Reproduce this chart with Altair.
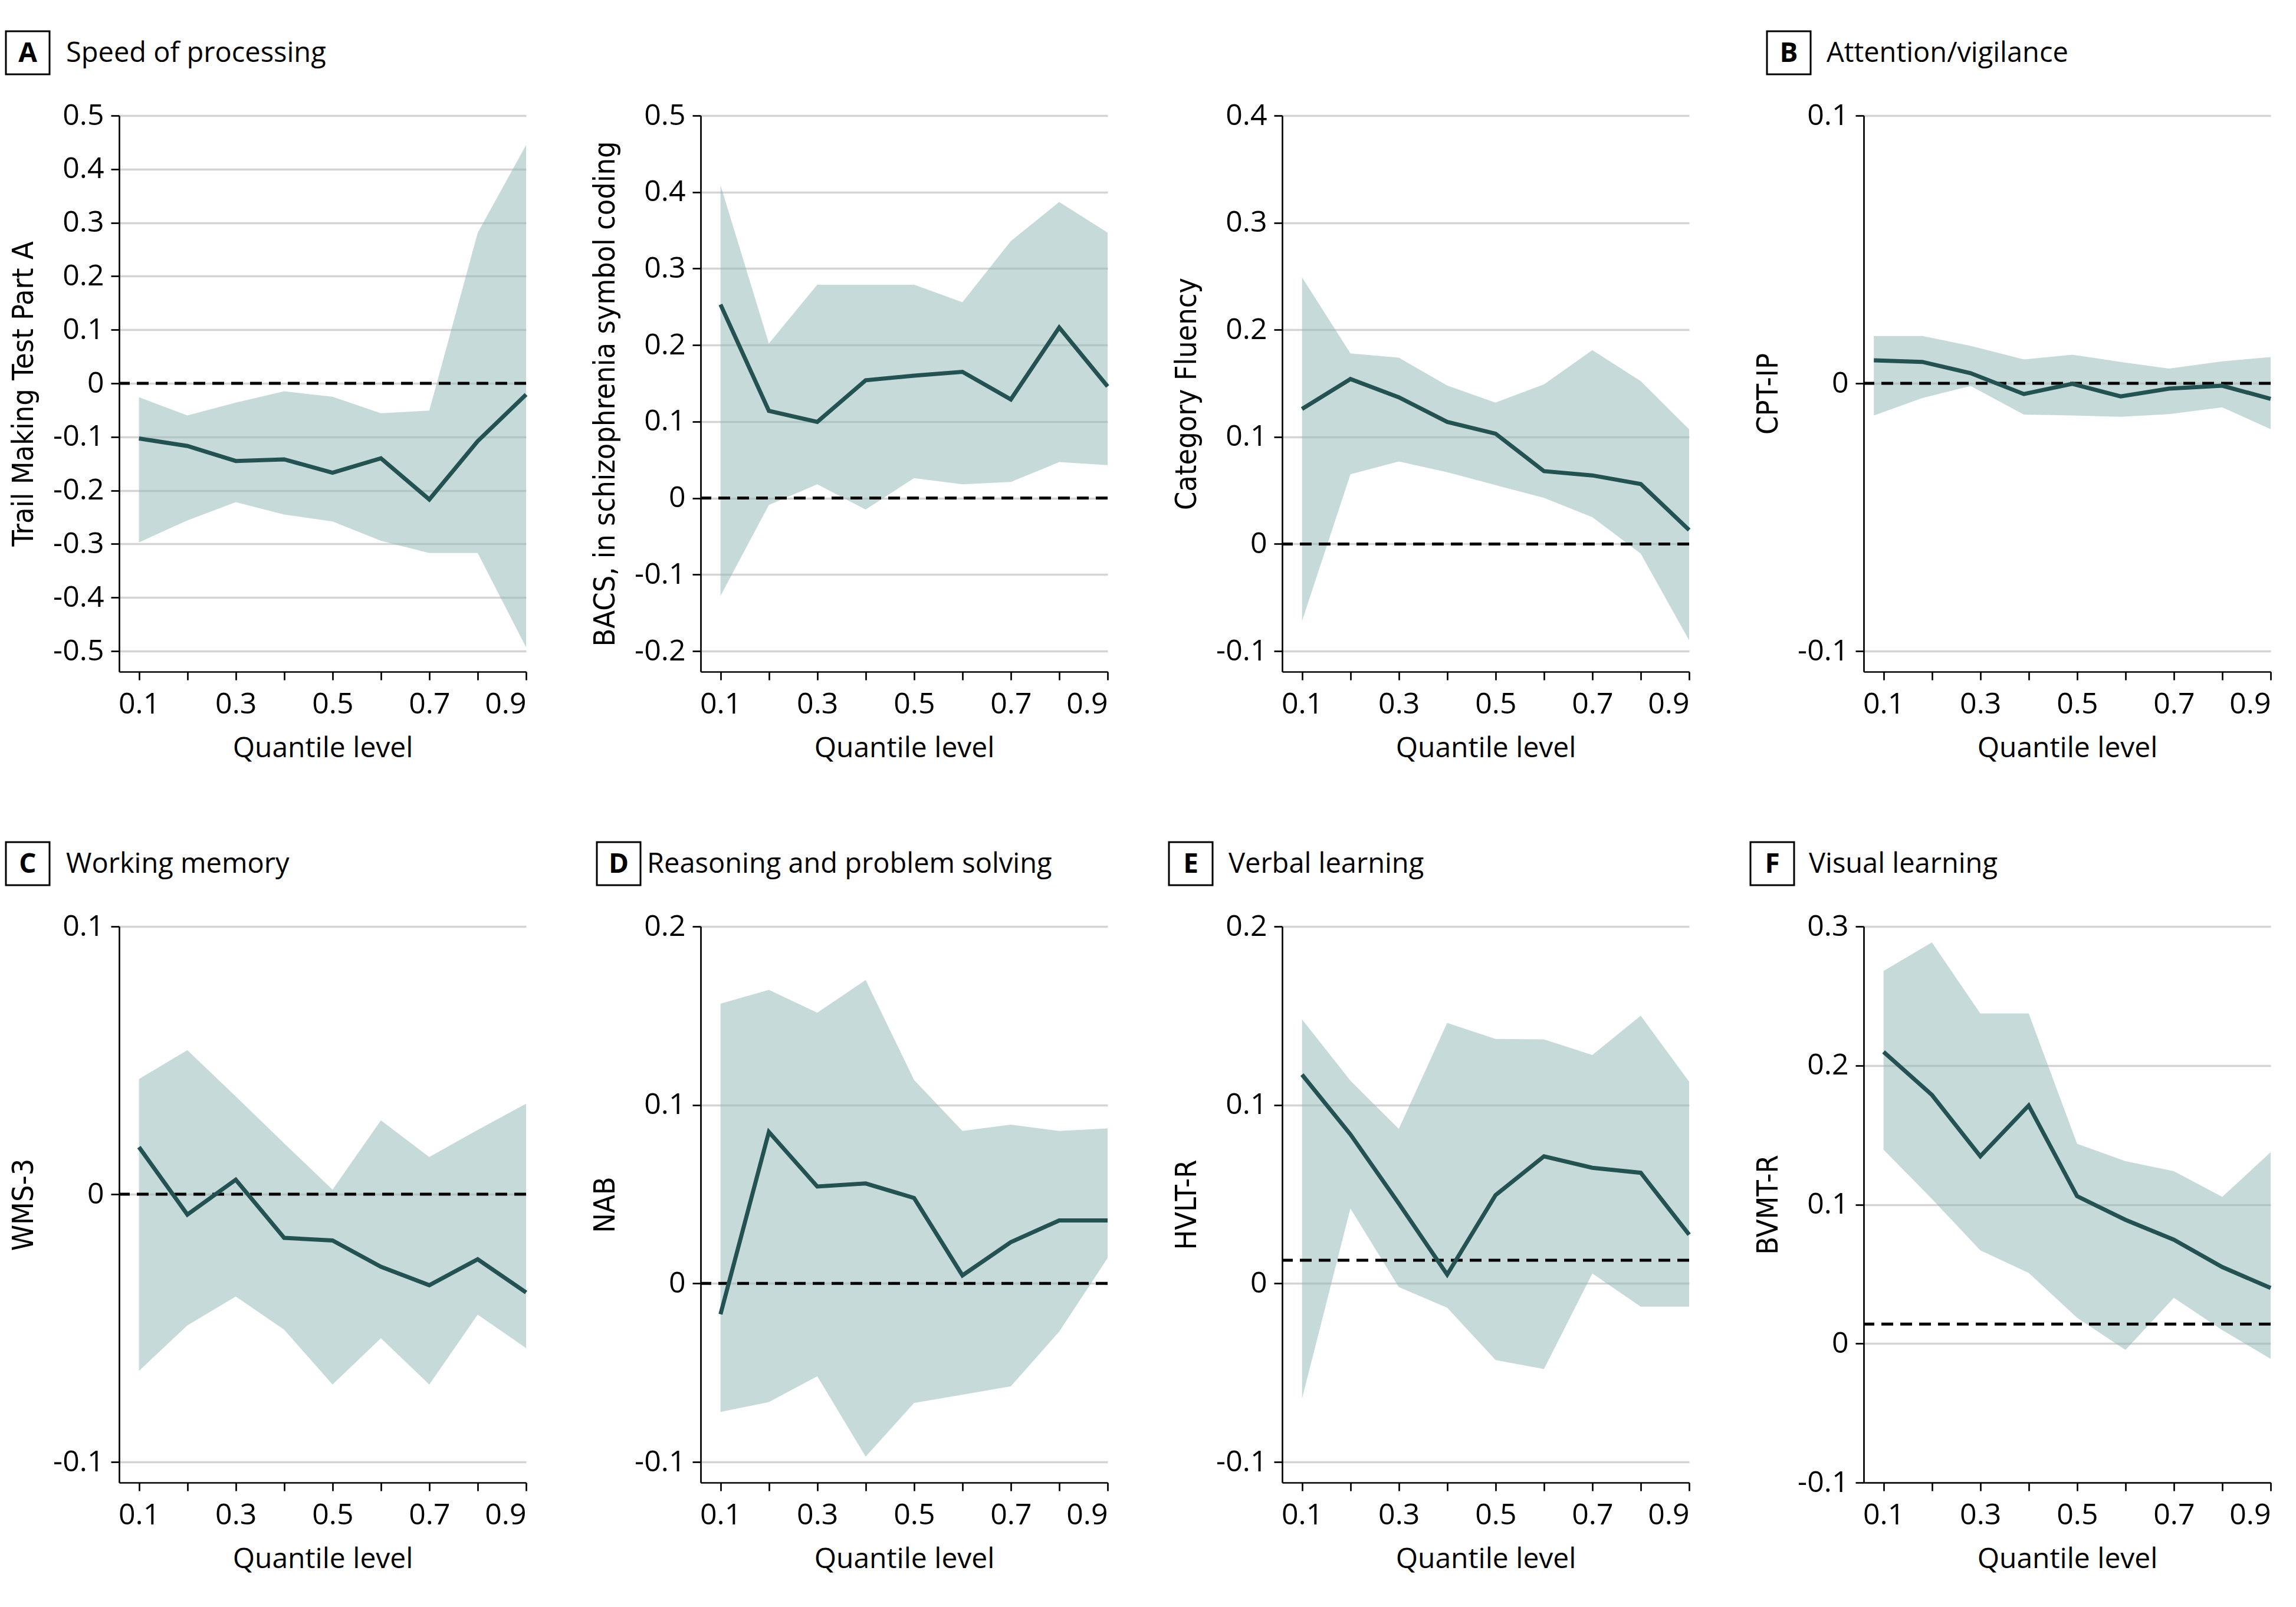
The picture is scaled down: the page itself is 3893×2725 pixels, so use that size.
import altair as alt
import pandas as pd

# ---------------- data ----------------
quantiles = [0.1, 0.2, 0.3, 0.4, 0.5, 0.6, 0.7, 0.8, 0.9]
cpt_quantiles = [0.08, 0.18, 0.28, 0.39, 0.49, 0.59, 0.69, 0.80, 0.90]
x_ticks = [0.1, 0.2, 0.3, 0.4, 0.5, 0.6, 0.7, 0.8, 0.9]

tmt_est = [-0.103, -0.117, -0.145, -0.142, -0.167, -0.140, -0.217, -0.108, -0.021]
tmt_hi = [-0.026, -0.060, -0.036, -0.015, -0.025, -0.056, -0.051, 0.281, 0.445]
tmt_lo = [-0.297, -0.256, -0.222, -0.245, -0.258, -0.294, -0.317, -0.317, -0.493]
tmt_ticks = [-0.5, -0.4, -0.3, -0.2, -0.1, 0, 0.1, 0.2, 0.3, 0.4, 0.5]

bacs_est = [0.253, 0.114, 0.0995, 0.154, 0.160, 0.165, 0.129, 0.223, 0.146]
bacs_hi = [0.409, 0.202, 0.279, 0.279, 0.279, 0.256, 0.336, 0.387, 0.347]
bacs_lo = [-0.128, -0.009, 0.018, -0.015, 0.026, 0.018, 0.021, 0.047, 0.043]
bacs_ticks = [-0.2, -0.1, 0, 0.1, 0.2, 0.3, 0.4, 0.5]

cf_est = [0.126, 0.154, 0.137, 0.114, 0.103, 0.068, 0.064, 0.056, 0.013]
cf_hi = [0.249, 0.178, 0.174, 0.148, 0.132, 0.149, 0.181, 0.152, 0.107]
cf_lo = [-0.072, 0.065, 0.077, 0.067, 0.055, 0.043, 0.025, -0.009, -0.090]
cf_ticks = [-0.1, 0, 0.1, 0.2, 0.3, 0.4]

cpt_est = [0.0086, 0.0080, 0.0038, -0.0040, -0.0002, -0.0049, -0.0020, -0.0009, -0.0058]
cpt_hi = [0.0177, 0.0177, 0.0140, 0.0089, 0.0107, 0.0080, 0.0055, 0.0082, 0.0098]
cpt_lo = [-0.0120, -0.0055, -0.0010, -0.0117, -0.0120, -0.0125, -0.0115, -0.0090, -0.0171]
cpt_ticks = [-0.1, 0, 0.1]

wms_est = [0.0176, -0.0076, 0.0054, -0.0163, -0.0173, -0.0271, -0.0340, -0.0243, -0.0367]
wms_hi = [0.0430, 0.0538, 0.0365, 0.0190, 0.0017, 0.0276, 0.0139, 0.0240, 0.0338]
wms_lo = [-0.0660, -0.0490, -0.0382, -0.0506, -0.0711, -0.0538, -0.0711, -0.0450, -0.0575]
wms_ticks = [-0.1, 0, 0.1]

nab_est = [-0.0173, 0.0849, 0.0543, 0.0560, 0.0479, 0.0045, 0.0231, 0.0353, 0.0353]
nab_hi = [0.1567, 0.1645, 0.1517, 0.1700, 0.1140, 0.0854, 0.0890, 0.0854, 0.0868]
nab_lo = [-0.0720, -0.0665, -0.0520, -0.0970, -0.0670, -0.0623, -0.0576, -0.0270, 0.0142]
nab_ticks = [-0.1, 0, 0.1, 0.2]

hvlt_est = [0.117, 0.0835, 0.0448, 0.005, 0.0495, 0.0712, 0.0648, 0.062, 0.0273]
hvlt_hi = [0.148, 0.1136, 0.0866, 0.146, 0.137, 0.1367, 0.128, 0.150, 0.113]
hvlt_lo = [-0.0646, 0.042, -0.002, -0.0136, -0.0429, -0.048, 0.0056, -0.013, -0.013]
hvlt_ticks = [-0.1, 0, 0.1, 0.2]

bvmt_est = [0.2098, 0.1788, 0.1347, 0.1712, 0.106, 0.089, 0.0747, 0.055, 0.040]
bvmt_hi = [0.268, 0.2885, 0.2374, 0.2374, 0.1437, 0.1312, 0.124, 0.1055, 0.1376]
bvmt_lo = [0.1394, 0.104, 0.067, 0.0508, 0.0186, -0.0046, 0.0329, 0.0097, -0.011]
bvmt_ticks = [-0.1, 0, 0.1, 0.2, 0.3]

ref_lines = {"tmt": 0.0, "bacs": 0.0, "cf": 0.0, "cpt": 0.0,
             "wms": 0.0, "nab": 0.0, "hvlt": 0.013, "bvmt": 0.014}

# ---------------- style ----------------
W, H = 690, 943
BAND = "#8fb5b5"
LINE = "#245252"
FONT = "Open Sans"
COND = "'Liberation Sans Narrow', 'DejaVu Sans Condensed', 'Roboto Condensed', sans-serif"

panels = [
    dict(key="tmt", letter="A", title="Speed of processing", ytitle="Trail Making Test Part A",
         x=quantiles, est=tmt_est, lo=tmt_lo, hi=tmt_hi, ticks=tmt_ticks, pad=True, box=-192, text=-90),
    dict(key="bacs", letter=None, title=None, ytitle="BACS, in schizophrenia symbol coding",
         x=quantiles, est=bacs_est, lo=bacs_lo, hi=bacs_hi, ticks=bacs_ticks, pad=True),
    dict(key="cf", letter=None, title=None, ytitle="Category Fluency",
         x=quantiles, est=cf_est, lo=cf_lo, hi=cf_hi, ticks=cf_ticks, pad=True),
    dict(key="cpt", letter="B", title="Attention/vigilance", ytitle="CPT-IP",
         x=cpt_quantiles, est=cpt_est, lo=cpt_lo, hi=cpt_hi, ticks=cpt_ticks, pad=True, box=-164, text=-63),
    dict(key="wms", letter="C", title="Working memory", ytitle="WMS-3",
         x=quantiles, est=wms_est, lo=wms_lo, hi=wms_hi, ticks=wms_ticks, pad=True, box=-192, text=-90),
    dict(key="nab", letter="D", title="Reasoning and problem solving", ytitle="NAB",
         x=quantiles, est=nab_est, lo=nab_lo, hi=nab_hi, ticks=nab_ticks, pad=True, box=-176, text=-91),
    dict(key="hvlt", letter="E", title="Verbal learning", ytitle="HVLT-R",
         x=quantiles, est=hvlt_est, lo=hvlt_lo, hi=hvlt_hi, ticks=hvlt_ticks, pad=True, box=-192, text=-91),
    dict(key="bvmt", letter="F", title="Visual learning", ytitle="BVMT-R",
         x=quantiles, est=bvmt_est, lo=bvmt_lo, hi=bvmt_hi, ticks=bvmt_ticks, pad=False, box=-192, text=-93),
]

x_label_expr = "round(datum.value*10) % 2 == 1 ? format(datum.value, '.1f') : ''"
y_label_expr = ("abs(datum.value) < 1e-9 ? '0' : "
                "(datum.value < 0 ? '-' : '') + format(abs(datum.value), '.1f')")


def make_panel(p):
    ymax = max(p["ticks"])
    ymin = min(p["ticks"])
    lower = ymax - (ymax - ymin) * H / (H - 35) if p["pad"] else ymin
    df = pd.DataFrame({"q": p["x"], "est": p["est"], "lo": p["lo"], "hi": p["hi"]})
    ref = pd.DataFrame({"est": [ref_lines[p["key"]]]})

    xsc = alt.Scale(domain=[0.059, 0.9], nice=False, zero=False)
    ysc = alt.Scale(domain=[lower, ymax], nice=False, zero=False)
    xax = alt.Axis(values=x_ticks, labelExpr=x_label_expr, title="Quantile level",
                   grid=False)
    yax = alt.Axis(values=p["ticks"], labelExpr=y_label_expr, title=p["ytitle"],
                   grid=True)

    band = alt.Chart(df).mark_area(color=BAND, opacity=0.5).encode(
        x=alt.X("q:Q", scale=xsc, axis=xax),
        y=alt.Y("lo:Q", scale=ysc, axis=yax),
        y2="hi:Q",
    )
    rule = alt.Chart(ref).mark_rule(color="black", strokeWidth=5, strokeDash=[20, 12]).encode(
        y=alt.Y("est:Q", scale=ysc, axis=yax),
    )
    line = alt.Chart(df).mark_line(color=LINE, strokeWidth=7).encode(
        x=alt.X("q:Q", scale=xsc, axis=xax),
        y=alt.Y("est:Q", scale=ysc, axis=yax),
    )
    layers = [band, rule, line]

    if p["letter"]:
        one = pd.DataFrame({"k": [0]})
        b = p["box"]
        box = alt.Chart(one).mark_rect(fill="white", stroke="black", strokeWidth=3).encode(
            x=alt.value(b), x2=alt.value(b + 74), y=alt.value(-143), y2=alt.value(-70))
        letter = alt.Chart(one).mark_text(font=FONT, fontSize=46, fontWeight="bold",
                                          align="center", baseline="middle", color="black").encode(
            x=alt.value(b + 37), y=alt.value(-105), text=alt.value(p["letter"]))
        title = alt.Chart(one).mark_text(font=FONT, fontSize=47, align="left",
                                         baseline="middle", color="black").encode(
            x=alt.value(p["text"]), y=alt.value(-105), text=alt.value(p["title"]))
        layers += [box, letter, title]

    return alt.layer(*layers).properties(width=W, height=H)


charts = [make_panel(p) for p in panels]

chart = alt.ConcatChart(
    concat=charts, columns=4, spacing={"row": 432, "column": 296}, bounds="flush"
).properties(
    padding={"left": 0, "top": 43, "right": 10, "bottom": 10},
    background="white",
).configure_view(
    stroke=None
).configure_axis(
    labelFont=FONT, labelFontSize=50, labelColor="black",
    domainColor="black", domainWidth=2.7,
    tickColor="black", tickWidth=2.7, tickSize=14,
    gridColor="#d4d4d4", gridWidth=3.5,
    titleFontWeight="normal", titleColor="black",
).configure_axisX(
    titleFont=FONT, titleFontSize=48, titlePadding=26, labelPadding=16,
).configure_axisY(
    titleFont=COND, titleFontSize=50, titlePadding=24, labelPadding=12,
)

chart.save("out.html", embed_options={"renderer": "svg", "actions": False})
